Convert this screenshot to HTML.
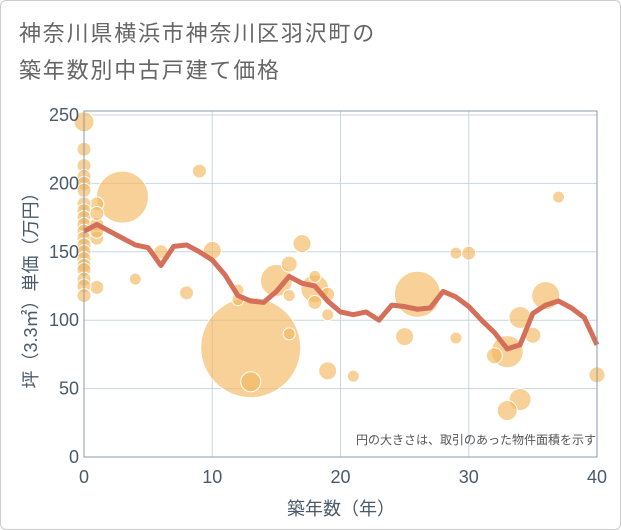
<!DOCTYPE html>
<html><head><meta charset="utf-8"><style>
body{margin:0;background:#fff;}
#card{position:absolute;left:0;top:0;width:619px;height:528px;border:1px solid #ccc;border-radius:6px;background:#fff;overflow:hidden;}
svg{position:absolute;left:0;top:0;font-family:"Liberation Sans","Noto Sans CJK JP",sans-serif;}
</style></head><body>
<div id="card">
<svg id="chart" width="621" height="530">
<text x="18" y="40" font-size="22" fill="#666" letter-spacing="1.8">神奈川県横浜市神奈川区羽沢町の</text>
<text x="18" y="77" font-size="22" fill="#666" letter-spacing="1.8">築年数別中古戸建て価格</text>
<g id="grid"></g><g id="bubbles"></g><g id="line"></g><g id="axes"></g>
<text x="595" y="443" font-size="12" fill="#555" text-anchor="end">円の大きさは、取引のあった物件面積を示す</text>
<text x="340" y="514" font-size="18" fill="#4a5a6a" text-anchor="middle">築年数（年）</text>
<text transform="translate(36,285) rotate(-90)" font-size="18" fill="#4a5a6a" text-anchor="middle">坪（3.3㎡）単価（万円）</text>
</svg></div>
<script>
const xTicks=[0,10,20,30,40];
const yTicks=[0,50,100,150,200,250];
const lineYears=[0,1,2,3,4,5,6,7,8,9,10,11,12,13,14,15,16,17,18,19,20,21,22,23,24,25,26,27,28,29,30,31,32,33,34,35,36,37,38,39,40];
const lineValues=[165,170,165,160,155,153,140,154,155,150,144,133,118,114,113,121,132,127,125,114,106,104,106,100,111,110,108,109,121,117,110,100,91,79,82,105,111,114,109,102,82];
const bubbleYears=[13,3,26,15,18,36,33,34,34,33,32,35,25,19,13,17,16,16,18,18,19,19,16,12,10,9,8,6,4,1,1,0,21,29,30,29,37,40,12,0,0,0,0,0,0,0,0,0,0,0,0,0,0,0,0,0,0,0,1,1,1,1];
const bubbleValues=[80,190,119,129,123,118,77,102,42,34,74,89,88,63,55,156,141,90,132,113,119,104,118,122,151,209,120,150,130,124,185,245,59,149,149,87,190,60,115,225,213,205,200,195,185,180,175,170,165,160,155,150,145,140,137,130,125,118,170,160,165,178];
const bubbleRadii=[50,26,23,16,14,14,16,11,11,10,8,8,9,9,10,9,8,6,6,7,7,6,6,6,9,7,7,7,6,7,7,10,6,6,7,6,6,8,6,7,7,7,7,7,7,7,7,7,7,7,7,7,7,7,7,7,7,7,7,7,7,7];
const X0=83,X1=596,Y0=456,Y1=114;
const xs=v=>X0+(v-0)/40*(X1-X0);
const ys=v=>Y0-(v/250)*(Y0-Y1);
const NS="http://www.w3.org/2000/svg";
function mk(t,a,p){const e=document.createElementNS(NS,t);for(const k in a)e.setAttribute(k,a[k]);p.appendChild(e);return e;}
const grid=document.getElementById('grid'),axes=document.getElementById('axes');
xTicks.forEach(t=>{const l=mk('line',{x1:xs(t),x2:xs(t),y1:Y1-4,y2:Y0,stroke:'#c8d6e2','stroke-width':1},grid);


const tx=mk('text',{x:xs(t),y:Y0+26,'font-size':18,fill:'#4a5a6a','text-anchor':'middle'},axes);tx.textContent=t;

});
yTicks.forEach(t=>{const l=mk('line',{x1:X0,x2:X1,y1:ys(t),y2:ys(t),stroke:'#c8d6e2','stroke-width':1},grid);


const tx=mk('text',{x:X0-5,y:ys(t)+6,'font-size':18,fill:'#4a5a6a','text-anchor':'end'},axes);tx.textContent=t;

});
const fr=mk('rect',{x:X0,y:Y1-4,width:X1-X0,height:Y0-Y1+4,fill:'none',stroke:'#8a9aaa','stroke-width':1},axes);


const bg=document.getElementById('bubbles');
bubbleYears.forEach((y,i)=>{const c=mk('circle',{cx:xs(y),cy:ys(bubbleValues[i]),r:bubbleRadii[i],fill:'#f3b861','fill-opacity':0.65,stroke:'#fff','stroke-width':1},bg);

});
const pts=lineYears.map((y,i)=>xs(y)+','+ys(lineValues[i])).join(' ');
const pl=mk('polyline',{points:pts,fill:'none',stroke:'#d4705a','stroke-width':5,'stroke-linejoin':'round'},document.getElementById('line'));


</script>
</body></html>
